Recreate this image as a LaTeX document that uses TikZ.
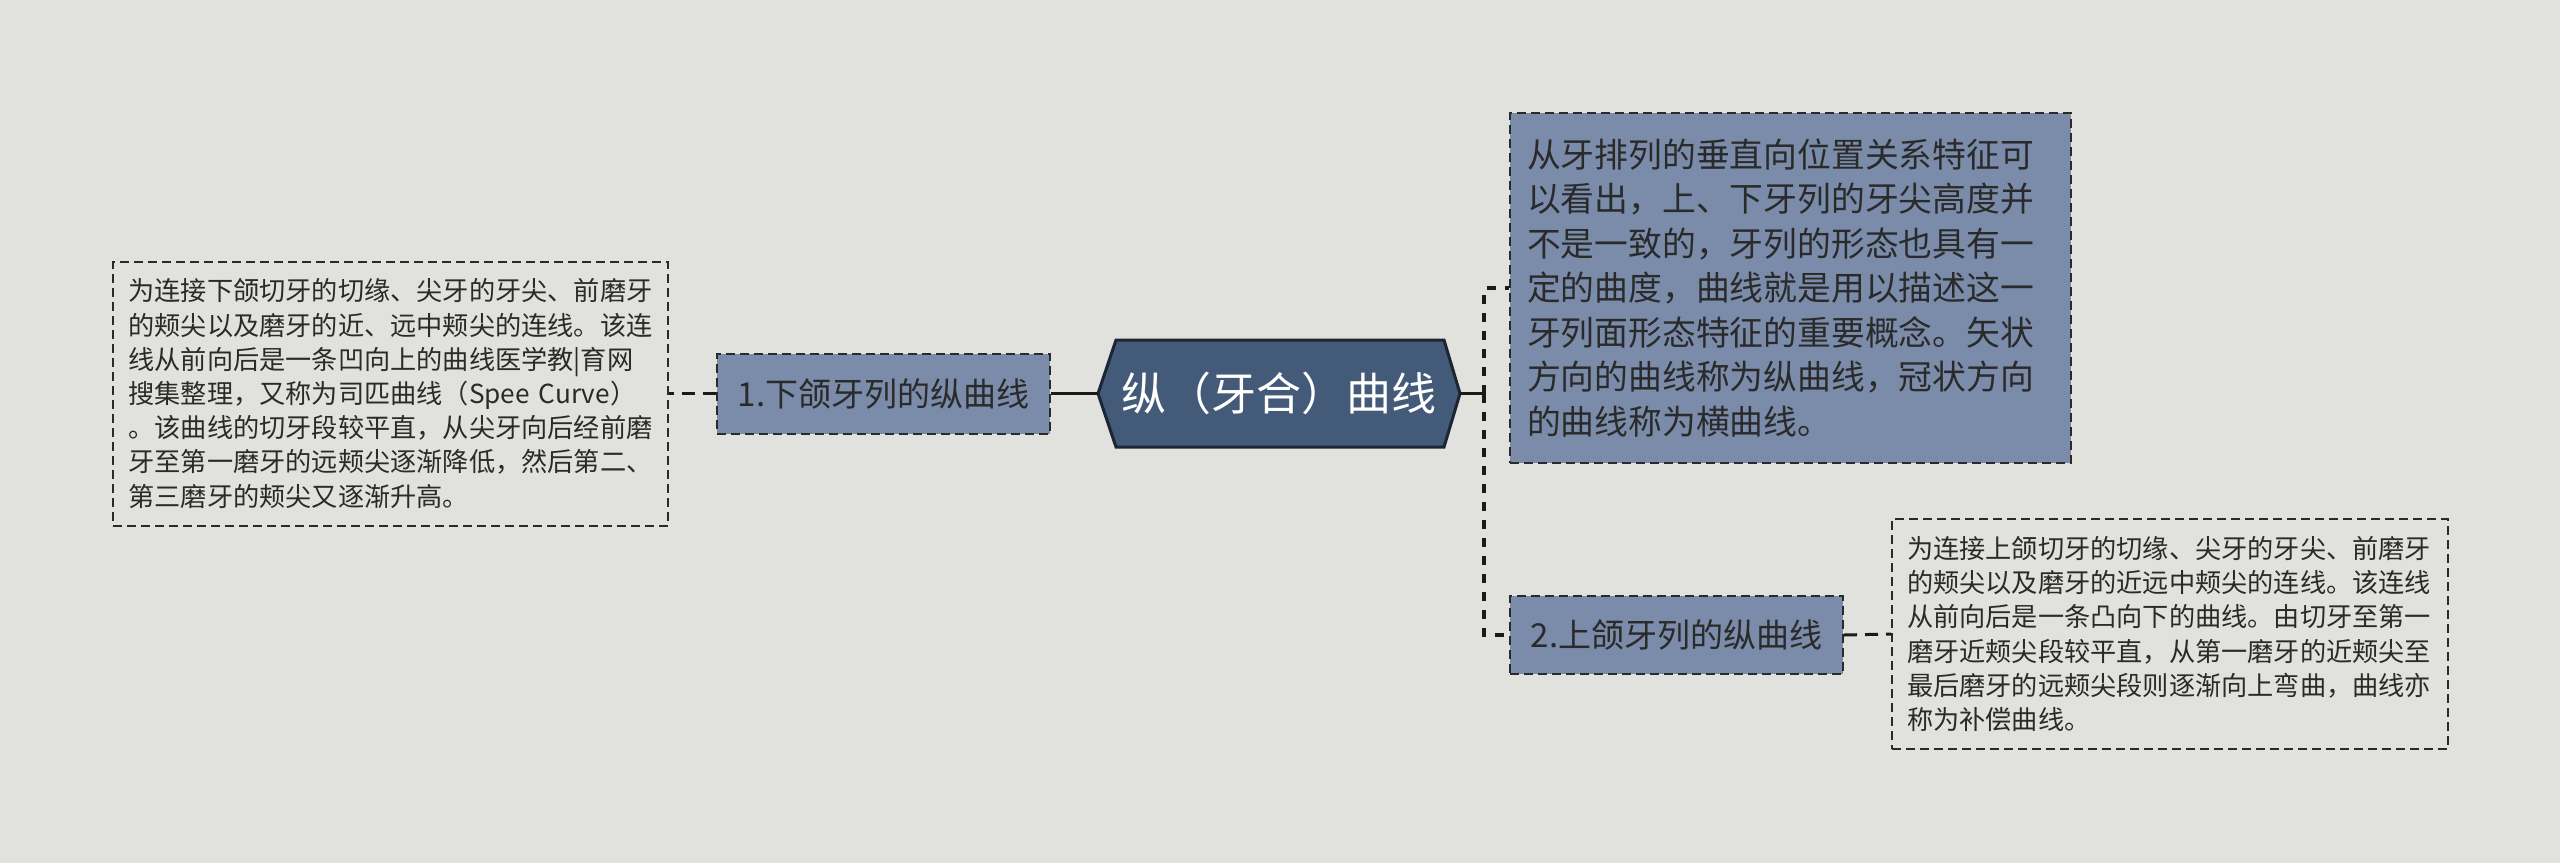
\documentclass[tikz,border=0pt]{standalone}
\usepackage{fontspec}
\setmainfont{Noto Sans CJK SC}
\definecolor{bg}{HTML}{E1E2DD}
\definecolor{hexfill}{HTML}{435A79}
\definecolor{hexline}{HTML}{1B2533}
\definecolor{nodefill}{HTML}{7A8CA9}
\definecolor{ink}{HTML}{2A2A2A}
\definecolor{lnk}{HTML}{1A1A1A}
\begin{document}
\begin{tikzpicture}[x=1pt,y=-1pt,
  box/.style={draw=ink, line width=2pt, dash pattern=on 9pt off 5pt, inner ysep=0pt, align=left, text=ink},
  leaf/.style={box, font=\fontsize{26.2pt}{34.2pt}\selectfont},
  sub/.style={box, fill=nodefill, inner sep=0pt, align=center, font=\fontsize{33pt}{40pt}\selectfont},
  solidlink/.style={draw=lnk, line width=3.5pt},
  trunk/.style={draw=lnk, line width=3.5pt, dash pattern=on 9pt off 9pt},
  link/.style={draw=lnk, line width=3pt, dash pattern=on 13pt off 8pt}]
\fill[bg] (0,0) rectangle (2560,863);
\useasboundingbox (0,0) rectangle (2560,863);
% central hexagon
\coordinate (cl) at (1098,393.5);
\coordinate (cr) at (1460,393.5);
\coordinate (hnw) at (1116,340);
\coordinate (hne) at (1444,340);
\coordinate (hse) at (1444,447);
\coordinate (hsw) at (1116,447);
\draw[hexline, fill=hexfill, line width=3pt, line join=miter] (cl) -- (hnw) -- (hne) -- (cr) -- (hse) -- (hsw) -- cycle;
\node[inner sep=0pt, text=white, font=\fontsize{45pt}{45pt}\selectfont] (c) at (1279,393.5) {纵（牙合）曲线};
% first level
\node[sub, minimum width=333pt, minimum height=80pt] (n1) at (883.5,393.5) {1.下颌牙列的纵曲线};
\node[sub, minimum width=333pt, minimum height=78pt] (n2) at (1676.5,635) {2.上颌牙列的纵曲线};
\node[box, fill=nodefill, inner xsep=17pt, text width=527pt, minimum height=350pt,
      font=\fontsize{33.8pt}{44.5pt}\selectfont] (t) at (1790.5,288) {从牙排列的垂直向位置关系特征可\\以看出，上、下牙列的牙尖高度并\\不是一致的，牙列的形态也具有一\\定的曲度，曲线就是用以描述这一\\牙列面形态特征的重要概念。矢状\\方向的曲线称为纵曲线，冠状方向\\的曲线称为横曲线。};
% leaves
\node[leaf, inner xsep=15.5pt, text width=524pt, minimum height=264pt] (l1) at (390.5,393.5) {为连接下颌切牙的切缘、尖牙的牙尖、前磨牙\\的颊尖以及磨牙的近、远中颊尖的连线。该连\\线从前向后是一条凹向上的曲线医学教|育网\\搜集整理，又称为司匹曲线（Spee Curve）\\。该曲线的切牙段较平直，从尖牙向后经前磨\\牙至第一磨牙的远颊尖逐渐降低，然后第二、\\第三磨牙的颊尖又逐渐升高。};
\node[leaf, inner xsep=15pt, text width=526pt, minimum height=230pt] (l2) at (2170,634) {为连接上颌切牙的切缘、尖牙的牙尖、前磨牙\\的颊尖以及磨牙的近远中颊尖的连线。该连线\\从前向后是一条凸向下的曲线。由切牙至第一\\磨牙近颊尖段较平直，从第一磨牙的近颊尖至\\最后磨牙的远颊尖段则逐渐向上弯曲，曲线亦\\称为补偿曲线。};
% connectors
\coordinate (jl) at (1064,393.5);
\coordinate (j) at (1484,393.5);
\draw[solidlink] (cl) -- (jl);
\draw[link] (jl) -- (n1.east);
\draw[link] (n1.west) -- (l1.east);
\draw[solidlink] (cr) -- (j);
\draw[trunk] (j) |- (t.west);
\draw[trunk] (j) |- (n2.west);
\draw[link] (n2.east) -- (l2.west);
\end{tikzpicture}
\end{document}
